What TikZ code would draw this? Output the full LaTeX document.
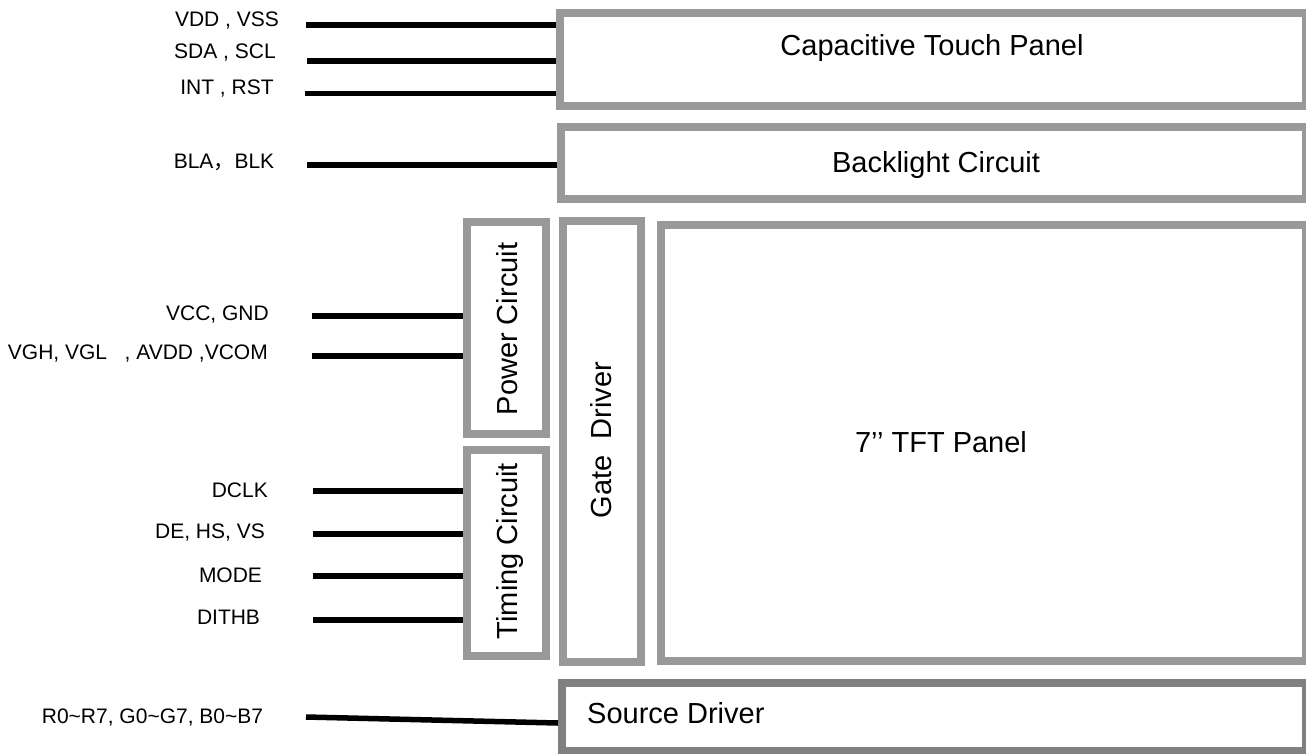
\documentclass[tikz,border=0pt]{standalone}
\usepackage{fontspec}
\setmainfont{Liberation Sans}
\newfontfamily\cjk{Noto Sans CJK SC}
\definecolor{boxgray}{RGB}{153,153,153}
\definecolor{srcgray}{RGB}{128,128,128}
\begin{document}
\begin{tikzpicture}[x=1pt,y=-1pt,
  blk/.style={draw=boxgray,line width=8pt,inner sep=0pt,rectangle},
  sig/.style={line width=5.5pt,black},
  small/.style={font=\fontsize{21}{25}\selectfont,inner sep=0pt,text height=15.1pt,text depth=0pt},
  big/.style={font=\fontsize{29}{34}\selectfont,inner sep=0pt,text height=20.9pt,text depth=0pt}]
\useasboundingbox (0,0) rectangle (1306,753);
% boxes
\node[blk,minimum width=746pt,minimum height=93pt] (touch) at (933,59.5) {};
\node[blk,minimum width=745pt,minimum height=72.5pt] (back) at (933.5,162.75) {};
\node[blk,minimum width=79pt,minimum height=212pt] (power) at (506,328) {};
\node[blk,minimum width=79pt,minimum height=206pt] (timing) at (506,553) {};
\node[blk,minimum width=78.5pt,minimum height=441.5pt] (gate) at (601.75,441.25) {};
\node[blk,minimum width=645pt,minimum height=436.5pt] (tft) at (983.5,442.75) {};
\node[blk,draw=srcgray,minimum width=744pt,minimum height=68.5pt] (source) at (934,716.75) {};
% box labels
\node[big] (ttouch) at (932,45) {Capacitive Touch Panel};
\node[big] (tback) at (936,162) {Backlight Circuit};
\node[big] (ttft) at (941,442) {7’’ TFT Panel};
\node[big,anchor=west] (tsrc) at (587,713) {Source Driver};
\node[big,rotate=90] (tpower) at (507,329) {Power Circuit};
\node[big,rotate=90] (ttiming) at (507,551) {Timing Circuit};
\node[big,rotate=90] (tgate) at (601,440) {Gate\ \ Driver};
% signal labels
\node[small] (l1) at (227,19) {VDD , VSS};
\node[small] (l2) at (225,51) {SDA , SCL};
\node[small] (l3) at (227,87) {INT , RST};
\node[small] (l4) at (224,161) {BLA{\cjk ，}BLK};
\node[small,anchor=east] (l5) at (269,312.5) {VCC, GND};
\node[small,anchor=east] (l6) at (268,352) {VGH, VGL\ \ \ , AVDD ,VCOM};
\node[small,anchor=east] (l7) at (268,490) {DCLK};
\node[small,anchor=east] (l8) at (265,531) {DE, HS, VS};
\node[small] (l9) at (230.5,574.5) {MODE};
\node[small] (l10) at (228.5,616.5) {DITHB};
\node[small] (l11) at (152.5,716) {R0\textasciitilde R7, G0\textasciitilde G7, B0\textasciitilde B7};
% signal lines
\coordinate (s1) at (306,25);
\coordinate (s2) at (307,61);
\coordinate (s3) at (305,93.5);
\coordinate (s4) at (307,165);
\coordinate (s5) at (312,316);
\coordinate (s6) at (312,356);
\coordinate (s7) at (313,491);
\coordinate (s8) at (313,534);
\coordinate (s9) at (313,576);
\coordinate (s10) at (313,620);
\coordinate (s11) at (306,717);
\coordinate (e11) at (0,723);
\draw[sig] (s1) -- (s1 -| touch.west);
\draw[sig] (s2) -- (s2 -| touch.west);
\draw[sig] (s3) -- (s3 -| touch.west);
\draw[sig] (s4) -- (s4 -| back.west);
\draw[sig] (s5) -- (s5 -| power.west);
\draw[sig] (s6) -- (s6 -| power.west);
\draw[sig] (s7) -- (s7 -| timing.west);
\draw[sig] (s8) -- (s8 -| timing.west);
\draw[sig] (s9) -- (s9 -| timing.west);
\draw[sig] (s10) -- (s10 -| timing.west);
\draw[sig] (s11) -- (source.west |- e11);
\end{tikzpicture}
\end{document}
